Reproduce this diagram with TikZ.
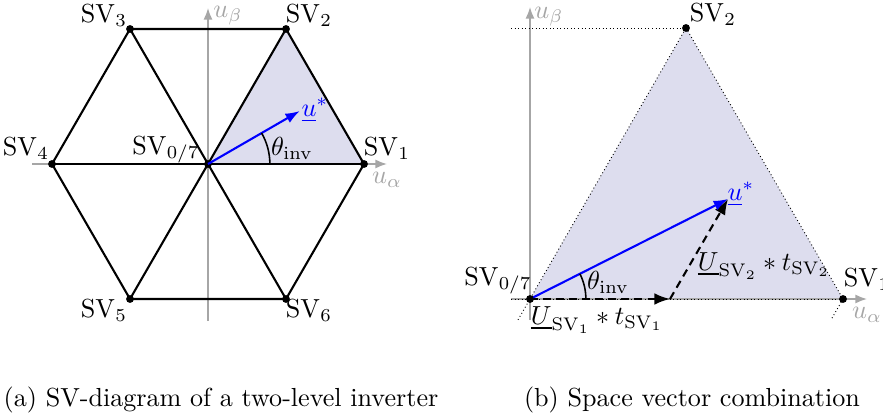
\documentclass[tikz,border=0pt]{standalone}
\usetikzlibrary{arrows.meta}
\definecolor{sector}{RGB}{221,221,238}
\begin{document}
\begin{tikzpicture}[x=0.383pt,y=0.383pt,
 hexline/.style={line width=0.8pt,black},
 axis/.style={gray!70,line width=0.6pt,-{Latex[length=4.5pt,width=3.5pt]}},
 axlabel/.style={text=gray!70,inner sep=0pt},
 dot/.style={circle,fill=black,inner sep=0pt,minimum size=3pt},
 refvec/.style={blue,line width=0.8pt,-{Latex[length=5.5pt,width=4pt]}},
 compvec/.style={black,densely dashed,line width=0.8pt,-{Latex[length=6pt,width=4.5pt]}},
 guide/.style={black,densely dotted,line width=0.35pt},
 anglearc/.style={black,line width=0.6pt},
 lbl/.style={inner sep=0pt}]
\useasboundingbox (0,0) rectangle (883,415);

% ---------- left: hexagon ----------
\coordinate (O) at (208,251);
\coordinate (S1) at (364,251);
\coordinate (S2) at (286,386);
\coordinate (S3) at (130,386);
\coordinate (S4) at (52,251);
\coordinate (S5) at (130,116);
\coordinate (S6) at (286,116);
\coordinate (axAs) at (32,251);
\coordinate (axAe) at (387,251);
\coordinate (axBs) at (208,94);
\coordinate (axBe) at (208,407);
\coordinate (U) at (299.8,304);

\fill[sector] (O) -- (S1) -- (S2) -- cycle;
\draw[axis] (axAs) -- (axAe);
\draw[axis] (axBs) -- (axBe);
\draw[hexline] (S1) -- (S2) -- (S3) -- (S4) -- (S5) -- (S6) -- cycle;
\draw[hexline] (S1) -- (S4);
\draw[hexline] (S2) -- (S5);
\draw[hexline] (S3) -- (S6);
\foreach \p in {O,S1,S2,S3,S4,S5,S6} \node[dot] (d\p) at (\p) {};
\draw[refvec] (O) -- (U);
\draw[anglearc] (O) ++(23.7pt,0) arc[start angle=0,end angle=30,radius=23.7pt];

\node[axlabel] (lub) at (228,399) {$u_\beta$};
\node[axlabel] (lua) at (387,235) {$u_\alpha$};
\node[lbl,text=blue] (lu) at (315,305) {$\underline{u}^*$};
\node[lbl] (lth) at (292,267) {$\theta_{\mathrm{inv}}$};
\node[lbl] (l1) at (387,266) {$\mathrm{SV}_1$};
\node[lbl] (l2) at (309,399) {$\mathrm{SV}_2$};
\node[lbl] (l3) at (104,399) {$\mathrm{SV}_3$};
\node[lbl] (l4) at (26,266) {$\mathrm{SV}_4$};
\node[lbl] (l5) at (104,104) {$\mathrm{SV}_5$};
\node[lbl] (l6) at (309,104) {$\mathrm{SV}_6$};
\node[lbl] (l0) at (166,265) {$\mathrm{SV}_{0/7}$};

% ---------- right: sector ----------
\coordinate (P0) at (530,116);
\coordinate (P1) at (843,116);
\coordinate (P2) at (686,387);
\coordinate (Q) at (670,116);
\coordinate (U2) at (728,216);
\coordinate (bxAs) at (511,116);
\coordinate (bxAe) at (867,116);
\coordinate (bxBs) at (530,95);
\coordinate (bxBe) at (530,408);
\coordinate (gTop) at (511,387);
\coordinate (gL) at (518,95.2);
\coordinate (gR) at (831,95.2);

\fill[sector] (P0) -- (P1) -- (P2) -- cycle;
\draw[axis] (bxAs) -- (bxAe);
\draw[axis] (bxBs) -- (bxBe);
\draw[guide] (gTop) -- (P2);
\draw[guide] (bxAs) -- (P1);
\draw[guide] (gL) -- (P2);
\draw[guide] (P2) -- (P1);
\draw[guide] (P1) -- (gR);
\draw[compvec] (P0) -- (Q);
\draw[compvec] (Q) -- (U2);
\draw[refvec] (P0) -- (U2);
\foreach \p in {P0,P1,P2} \node[dot] (d\p) at (\p) {};
\draw[anglearc] (P0) ++(21.4pt,0) arc[start angle=0,end angle=26.8,radius=21.4pt];

\node[axlabel] (rub) at (549,398) {$u_\beta$};
\node[axlabel] (rua) at (867,100) {$u_\alpha$};
\node[lbl,text=blue] (ru) at (741,221) {$\underline{u}^*$};
\node[lbl] (rth) at (608,133) {$\theta_{\mathrm{inv}}$};
\node[lbl] (r0) at (498,134) {$\mathrm{SV}_{0/7}$};
\node[lbl] (r1) at (867,135) {$\mathrm{SV}_1$};
\node[lbl] (r2) at (713,400) {$\mathrm{SV}_2$};
\node[lbl] (rt1) at (597,95) {$\underline{U}_{\mathrm{SV}_1} * t_{\mathrm{SV}_1}$};
\node[lbl] (rt2) at (764,149) {$\underline{U}_{\mathrm{SV}_2} * t_{\mathrm{SV}_2}$};

% ---------- captions ----------
\node[anchor=base] (capa) at (221,9) {(a) SV-diagram of a two-level inverter};
\node[anchor=base] (capb) at (692,9) {(b) Space vector combination};
\end{tikzpicture}
\end{document}
